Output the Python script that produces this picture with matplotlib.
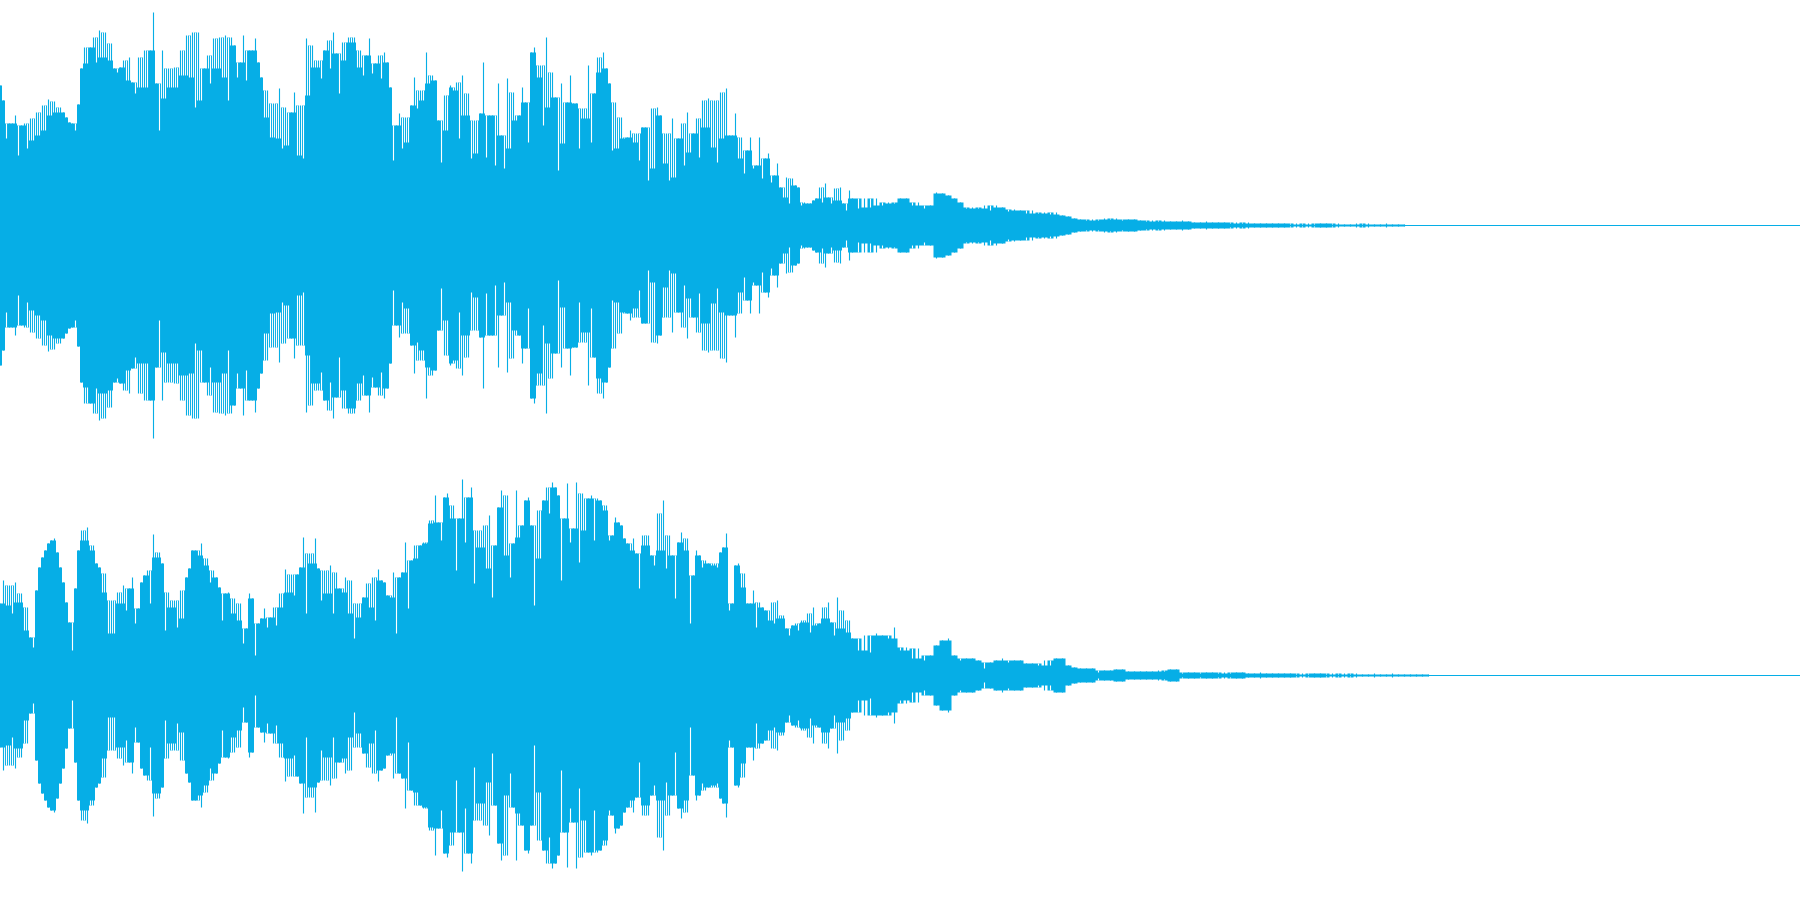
import numpy as np
import matplotlib
matplotlib.use("Agg")
import matplotlib.pyplot as plt

COLOR = "#06AEE6"
DURATION = 1800
FULL_SCALE = 225

# Peak amplitudes, 1/225 of full scale.
ch1_start = [140,125,87,102,102,110,70,100,102,77,107,85,113,90,120,95,126,110,124,113,118,113,108,103,102,95,
 121,157,178,162,178,188,163,195,168,193,165,182,157,153,158,165,145,168,143,132,168,138,175,138,175,213,142,95,175,127,157,138,158,138,175,150,190,148,193,118,193,125,157,170,142,187,157,188,148,190,125,188,180,148,163,190,145,175,175,187,163,148,108,135,88,122,87,137,77,118,80,113,133,70,120,67,
 187,130,180,158,165,147,175,185,157,193,172,132,183,165,188,183,188,158,175,150,170,187,152,162,170,147,173,163,138,65,100,112,77,108,83,120,148,117,135,125,173,142,150,145,105,63,130,95,140]
ch1_mid = [138,135,143,87,150,110,132,67,105,72,112,163,68,110,110,60,142,90,57,147,77,133,105,110,138,123,83,173,178,148,160,100,188,118,153,128,55,142,82,123,150,122,122,77,117,107,160,83,132,168,153,173,157,142,75,123,77,108,87,88,95,83,92,65,98,98,45,117,57,118,110,62,92,45,107,48,87,102,60,113,73,92,107,68,125,98,127,78,125,63,133,87,137,90,90,112,67,88,52,75,88,57,60,88,47,67,72,43,50,62,38,28,48,22,47,40,38,20,23,22,22,25,27,38,23,42,28,22,37,25,38,22,15,35]
ch1_tail = [27,17,27,18,27,20,23,22,27,27,20,23,17,20,33,32,30,27,23,17,18,17,20,15,20,18,14,16,15,12,15,12,13,11,13,10,9,7,6,5,6,5,7,6,7,5,6,6,5,4,5,4,5,4,4,5,4,3,3,4,3,3,3,2,3,2,3,2,2,2,2,2,2,1,2,1,2,1,2,2,1,2,1,1,2,1,2,1,1,2,1,1,1]

ch2_start = [72,95,70,90,62,93,73,82,45,68,38,28,85,108,118,125,132,135,137,123,108,93,73,53,25,87,125,145,135,148,125,130,112,108,83,102,42,75,42,83,72,90,65,87,98,52,67,93,100,105,72,141,118,123,112,45,83,68,75,48,85,57,98,107,125,125,120,132,110,117,93,105,98,88,55,82,83,62,77,55,72,32,47,82,77,20,52,57,67,48,58,68,50,82,68,106,83,101,80,101,108,138,62,122,112,137,107,75,105,82,110,62,103,87,83,98,62,95,37,72,58,78,92,68,98,55,106,95,93,80,78,103,42,98,103,133,67,115,130,117,130,133,132,155,152,180,153,135,178,182]
ch2_mid = [157,170,105,157,196,133,178,188,92,145,128,150,107,160,78,130,168,185,120,180,98,132,185,138,150,175,178,150,70,165,117,175,188,162,193,188,180,95,157,192,133,147,193,113,182,145,177,180,135,177,175,165,170,135,140,158,153,150,137,132,125,137,122,87,140,130,140,120,110,162,125,175,107,140,120,77,133,143,125,137,52,100,125,120,108,115,112,110,112,108,123,128,142,65,72,110,112,88,102,72,72,85,48,73,68,65,55,73,52,75,57,60,47,40,50,52,45,55,53,62,43,68,50,52,68,57,73,53,40,78,47,65,43,55]
ch2_tail = [37,25,40,23,42,40,37,48,25,28,17,27,15,20,30,35,37,20,15,17,17,15,7,13,15,17,13,15,15,12,12,10,15,10,17,17,10,8,7,7,7,3,5,5,6,6,4,4,4,4,4,5,4,6,6,2,3,3,2,3,3,2,3,2,3,3,2,2,3,2,2,2,2,2,1,2,1,2,2,1,2,1,2,1,2,1,1,2,1,1,2,1,1,1,1,1,1]


def draw(ax, start, mid, tail):
    xs = np.concatenate([3 * np.arange(len(start)), 450 + 3 * np.arange(len(mid)), 852 + 6 * np.arange(len(tail))])
    ys = np.array(start + mid + tail, dtype=float)
    window = np.vstack([np.roll(ys, 1), ys, np.roll(ys, -1)])
    core = np.median(window, axis=0)
    core[0], core[-1] = ys[0], ys[-1]
    ax.fill_between(xs, -core, core, step="mid", color=COLOR, lw=0)
    ax.vlines(xs, -ys, ys, color=COLOR, lw=0.8)
    dips = ys < core
    ax.vlines(xs[dips], ys[dips], core[dips], color="white", lw=0.8)
    ax.vlines(xs[dips], -core[dips], -ys[dips], color="white", lw=0.8)
    ax.hlines(0, 0, DURATION, color=COLOR, lw=0.72)
    ax.set_xlim(0, DURATION)
    ax.set_ylim(-FULL_SCALE, FULL_SCALE)
    ax.axis("off")


fig = plt.figure(figsize=(18, 9), dpi=100, facecolor="white")
ax1 = fig.add_axes([0, 0.5, 1, 0.5])
ax2 = fig.add_axes([0, 0, 1, 0.5])
draw(ax1, ch1_start, ch1_mid, ch1_tail)
draw(ax2, ch2_start, ch2_mid, ch2_tail)
fig.savefig("out.png", dpi=100, facecolor="white")
